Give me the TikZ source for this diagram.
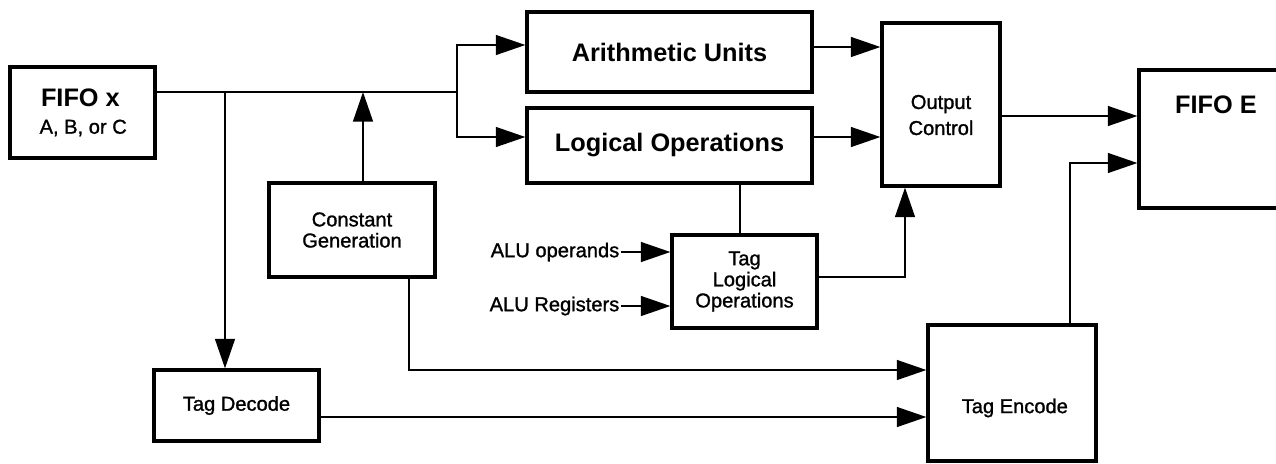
\documentclass[tikz,border=0pt]{standalone}
\usepackage{fontspec}
\setmainfont{Liberation Sans}
\newfontfamily\medfam{Liberation Sans}[FakeBold=1.2]
\usetikzlibrary{arrows.meta}
\newcommand\bigf{\fontsize{18}{21}\selectfont\bfseries}
\newcommand\smf{\medfam\fontsize{14.3}{15}\selectfont}
\begin{document}
\begin{tikzpicture}[x=0.025cm,y=-0.025cm,
  box/.style={draw,line width=2.2pt,inner sep=0pt,rectangle},
  lbl/.style={font=\smf,inner sep=1pt},
  wire/.style={line width=1.6pt},
  arr/.style={wire,-{Triangle[length=21pt,width=14pt]}}]
\useasboundingbox (0,0) rectangle (1276,463);
\clip (0,0) rectangle (1276,463);
% boxes
\node[box,minimum width=3.625cm,minimum height=2.275cm,
  label={[font=\bigf,xshift=-1.5pt,yshift=10.3pt]center:FIFO x},
  label={[font=\smf,xshift=0.5pt,yshift=-11pt]center:A, B, or C}] (fx) at (82.5,112.5) {};
\node[box,minimum width=7.125cm,minimum height=2.0cm,font=\bigf] (au) at (669.5,52) {Arithmetic Units};
\node[box,minimum width=7.125cm,minimum height=1.875cm,font=\bigf] (lo) at (669.5,145.5) {Logical Operations};
\node[box,minimum width=2.95cm,minimum height=4.075cm,
  label={[font=\medfam\fontsize{14.3}{18.5}\selectfont,align=center,yshift=-7.5pt]center:Output\\Control}] (oc) at (941,104.5) {};
\node[box,minimum width=4.025cm,minimum height=3.45cm,
  label={[font=\bigf,xshift=-2.5pt,yshift=24pt]center:FIFO E}] (fe) at (1219.5,139) {};
\node[box,minimum width=4.15cm,minimum height=2.35cm,font=\smf,align=center] (cg) at (352,230) {Constant\\Generation};
\node[box,minimum width=4.125cm,minimum height=1.775cm,font=\smf] (td) at (236.5,405.5) {Tag Decode};
\node[box,minimum width=3.625cm,minimum height=2.325cm,font=\smf,align=center] (tlo) at (744.5,281.5) {Tag\\Logical\\Operations};
\node[box,minimum width=4.2cm,minimum height=3.4cm,
  label={[font=\smf,xshift=2pt,yshift=-10.6pt]center:Tag Encode}] (te) at (1012,393) {};
% labels
\node[lbl,anchor=east] (aluop) at (621,252) {ALU operands};
\node[lbl,anchor=east] (alureg) at (621,306) {ALU Registers};
% coordinates
\coordinate (split) at (457,92);
\coordinate (tap) at (225,92);
\coordinate (cgup) at (363,92);
\coordinate (ya) at (0,45);
\coordinate (yl) at (0,137);
\coordinate (yao) at (0,47);
\coordinate (cgd) at (409,370);
\coordinate (tdy) at (0,417);
\coordinate (lox) at (740,0);
\coordinate (tly) at (0,277);
\coordinate (ocx) at (905,0);
\coordinate (ocy) at (0,116);
\coordinate (tex) at (1070,163);
% connectors
\draw[wire] (fx.east |- split) -- (split);
\draw[arr] (split) |- (au.west |- ya);
\draw[arr] (split) |- (lo.west |- yl);
\draw[arr] (tap) -- (tap |- td.north);
\draw[arr] (cg.north -| cgup) -- (cgup);
\draw[arr] (cg.south -| cgd) |- (te.west |- cgd);
\draw[arr] (td.east |- tdy) -- (te.west |- tdy);
\draw[arr] (au.east |- yao) -- (oc.west |- yao);
\draw[arr] (lo.east |- yl) -- (oc.west |- yl);
\draw[wire] (lo.south -| lox) -- (tlo.north -| lox);
\draw[arr] (tlo.east |- tly) -| (oc.south -| ocx);
\draw[arr] (aluop.east) -- (tlo.west |- aluop.east);
\draw[arr] (alureg.east) -- (tlo.west |- alureg.east);
\draw[arr] (oc.east |- ocy) -- (fe.west |- ocy);
\draw[arr] (te.north -| tex) |- (fe.west |- tex);
\end{tikzpicture}
\end{document}
